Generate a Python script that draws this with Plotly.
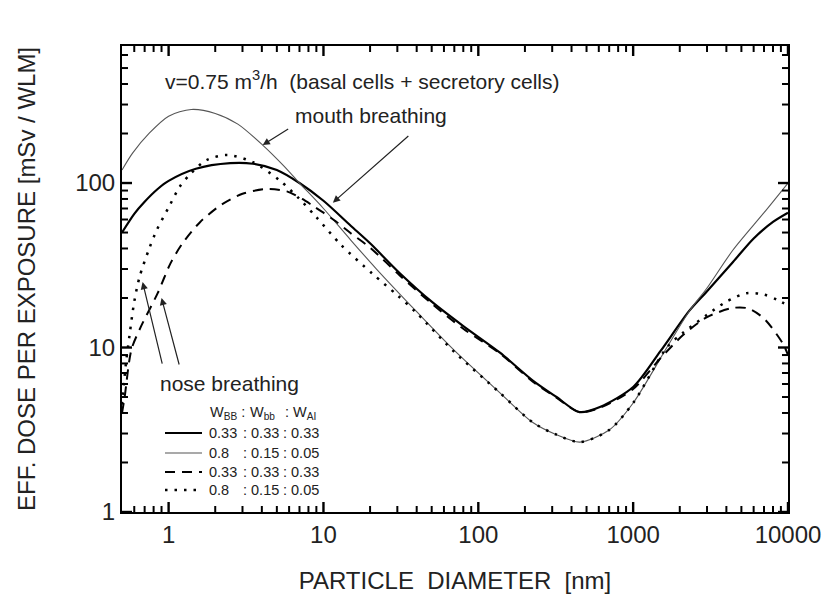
import plotly.graph_objects as go
import math

# ---- data ----
# 0.33:0.33:0.33, mouth breathing (thick solid)
xA = [0.5, 0.6, 0.7, 0.85, 1.0, 1.5, 2.5, 3.5, 5, 7, 10, 15, 20, 31, 50, 80, 138, 225, 320, 450, 610, 1000, 1500, 2300, 3000, 4400, 6000, 8000, 10000]
yA = [50, 65, 77, 92, 103, 122, 132, 131, 120, 100, 78, 55, 43, 28.4, 19, 13.5, 9.3, 6.3, 5.0, 4.05, 4.35, 5.75, 9.5, 16.7, 22, 33, 46, 58, 66]
# 0.8:0.15:0.05, mouth breathing (thin solid)
xB = [0.5, 0.585, 0.75, 1.0, 1.4, 2.0, 2.8, 4.05, 5.5, 7, 10, 15, 22, 40, 70, 138, 225, 320, 453, 700, 1000, 1650, 2330, 3000, 4400, 7000, 10000]
yB = [120, 152, 201, 255, 280, 265, 228, 170, 128, 100, 70, 45, 30, 16.5, 9.6, 5.3, 3.5, 2.95, 2.66, 3.15, 4.6, 10, 16.9, 23, 39, 66, 100]
# 0.33:0.33:0.33, nose breathing (dashed)
xC = [0.5, 0.52, 0.575, 0.66, 0.85, 1.03, 1.23, 1.6, 2.2, 3.0, 4.3, 5.8, 7.3, 8.5, 10, 12, 15, 20, 31, 50, 80, 138, 225, 320, 450, 610, 1000, 1500, 2100, 3000, 4400, 5500, 7000, 9300, 10000]
yC = [4, 5, 9.7, 13.3, 21.4, 32.6, 43, 58, 74, 86, 92, 89, 80, 73, 66, 58.5, 49.5, 40.5, 27.5, 18.5, 13, 9.2, 6.2, 4.95, 4.05, 4.3, 5.6, 8.6, 11.9, 15.3, 17.4, 17.3, 15, 10.5, 9]
# 0.8:0.15:0.05, nose breathing (dotted)
xD = [0.5, 0.53, 0.56, 0.6, 0.65, 0.75, 0.84, 1.0, 1.18, 1.4, 1.76, 2.4, 3.5, 5.2, 7, 9, 13, 20.8, 30, 40, 70, 138, 225, 320, 453, 700, 1000, 1650, 2100, 3000, 4000, 5400, 7000, 8500, 10000]
yD = [4.5, 8, 12, 19, 27, 40, 52, 71, 95, 115, 138, 148, 134, 104, 80, 62, 42, 28, 20.8, 16.2, 9.4, 5.3, 3.5, 2.95, 2.66, 3.15, 4.6, 10, 12.3, 15.8, 19, 21.4, 21, 19.5, 18]

# legend table (weights W_BB : W_bb : W_AI)
w_bb_big = ["0.33", "0.8", "0.33", "0.8"]
w_bb_small = ["0.33", "0.15", "0.33", "0.15"]
w_ai = ["0.33", "0.05", "0.33", "0.05"]

x_ticks = [1, 10, 100, 1000, 10000]
x_ticktext = ["1", "10", "100", "1000", "10000"]
y_ticks = [1, 10, 100]
y_ticktext = ["1", "10", "100"]

FONT = "Liberation Sans, Arial, sans-serif"
TXT = "#222222"

styles = [
    dict(color="black", width=2.2),
    dict(color="#555555", width=1.1),
    dict(color="black", width=2, dash="10px,7px"),
    dict(color="black", width=2.5, dash="2.5px,7px"),
]

fig = go.Figure()
for xs, ys, st in zip([xA, xB, xC, xD], [yA, yB, yC, yD], styles):
    fig.add_trace(go.Scatter(x=xs, y=ys, mode="lines", showlegend=False, hoverinfo="skip",
                             line=dict(shape="spline", smoothing=0.8, **st)))

X0, XR = math.log10(0.5), 4
Y0, YR = 0, 2.833
PW, PH = 666, 466  # plot area size in px

minor_x = [m * 10 ** d for d in range(-1, 4) for m in range(2, 10) if 0.5 < m * 10 ** d < 10000]
minor_y = [m * 10 ** d for d in range(0, 3) for m in range(2, 10) if m * 10 ** d < 10 ** YR]


# inside tick marks on all four sides, drawn as line segments in axis coordinates
def tick_segments(xvals, yvals, ln):
    dy = ln / PH * (YR - Y0)
    dx = ln / PW * (XR - X0)
    xs, ys = [], []
    for v in xvals:
        xs += [v, v, None, v, v, None]
        ys += [10 ** Y0, 10 ** (Y0 + dy), None, 10 ** YR, 10 ** (YR - dy), None]
    for v in yvals:
        xs += [10 ** X0, 10 ** (X0 + dx), None, 10 ** XR, 10 ** (XR - dx), None]
        ys += [v, v, None, v, v, None]
    return xs, ys


for xv, yv, ln, w in [(x_ticks, y_ticks, 10, 2.4), (minor_x, minor_y, 6, 2.0)]:
    tx, ty = tick_segments(xv, yv, ln)
    fig.add_trace(go.Scatter(x=tx, y=ty, mode="lines", showlegend=False, hoverinfo="skip",
                             line=dict(color="black", width=w), cliponaxis=False, connectgaps=False))

fig.update_layout(
    xaxis=dict(type="log", range=[X0, XR], showgrid=False, zeroline=False, tickmode="array",
               tickvals=x_ticks, ticktext=x_ticktext, ticks="", showline=True, linecolor="black",
               linewidth=2, mirror=True, automargin=False, tickfont=dict(family=FONT, size=24, color=TXT),
               title=dict(text="PARTICLE&nbsp; DIAMETER&nbsp; [nm]", font=dict(family=FONT, size=24, color=TXT), standoff=27)),
    yaxis=dict(type="log", range=[Y0, YR], showgrid=False, zeroline=False, tickmode="array",
               tickvals=y_ticks, ticktext=y_ticktext, ticks="", showline=True, linecolor="black",
               linewidth=2, mirror=True, automargin=False, tickfont=dict(family=FONT, size=24, color=TXT),
               title=dict(text="EFF. DOSE PER EXPOSURE [mSv / WLM]", font=dict(family=FONT, size=24, color=TXT), standoff=33)),
)


def px(xp):
    return (xp - 122) / PW


def py(yp):
    return (512 - yp) / PH


ann_font = dict(family=FONT, size=21, color=TXT)
annotations = [
    dict(xref="paper", yref="paper", x=px(163), y=py(80), xanchor="left", yanchor="middle", showarrow=False,
         text="v=0.75 m<sup>3</sup>/h &nbsp;(basal cells + secretory cells)", font=ann_font),
    dict(xref="paper", yref="paper", x=px(293), y=py(115), xanchor="left", yanchor="middle", showarrow=False,
         text="mouth breathing", font=ann_font),
    dict(xref="paper", yref="paper", x=px(158), y=py(383), xanchor="left", yanchor="middle", showarrow=False,
         text="nose breathing", font=ann_font),
]
arrow = dict(xref="x", yref="y", text="", showarrow=True, arrowhead=2, arrowsize=1.2, arrowwidth=1.2, arrowcolor=TXT)
for hx, hy, ax, ay in [(4.05, 170, 27, -17), (11.5, 76, 77, -68), (0.679, 25, 20, 83), (0.90, 20, 18, 68)]:
    annotations.append(dict(x=math.log10(hx), y=math.log10(hy), ax=ax, ay=ay, **arrow))

# legend header and rows (manual)
lf = dict(family=FONT, size=14.5, color=TXT)
hdr_y = 413
annotations += [
    dict(xref="paper", yref="paper", x=px(208), y=py(hdr_y), xanchor="left", yanchor="middle", showarrow=False,
         text="W<sub>BB</sub> :", font=lf),
    dict(xref="paper", yref="paper", x=px(248), y=py(hdr_y), xanchor="left", yanchor="middle", showarrow=False,
         text="W<sub>bb</sub>", font=lf),
    dict(xref="paper", yref="paper", x=px(283), y=py(hdr_y), xanchor="left", yanchor="middle", showarrow=False,
         text=": W<sub>AI</sub>", font=lf),
]
shapes = []
row_y = [433, 453, 472, 490]
for i, ry in enumerate(row_y):
    annotations += [
        dict(xref="paper", yref="paper", x=px(207), y=py(ry), xanchor="left", yanchor="middle", showarrow=False,
             text=w_bb_big[i], font=lf),
        dict(xref="paper", yref="paper", x=px(241), y=py(ry), xanchor="left", yanchor="middle", showarrow=False,
             text=": " + w_bb_small[i], font=lf),
        dict(xref="paper", yref="paper", x=px(281), y=py(ry), xanchor="left", yanchor="middle", showarrow=False,
             text=": " + w_ai[i], font=lf),
    ]
    shapes.append(dict(type="line", xref="paper", yref="paper", x0=px(165), x1=px(202), y0=py(ry), y1=py(ry),
                       line=styles[i]))

fig.update_layout(
    width=825, height=594,
    margin=dict(l=122, r=37, t=46, b=82),
    paper_bgcolor="white", plot_bgcolor="white",
    showlegend=False,
    annotations=annotations,
    shapes=shapes,
    font=dict(family=FONT),
)

fig.write_html("out.html")
